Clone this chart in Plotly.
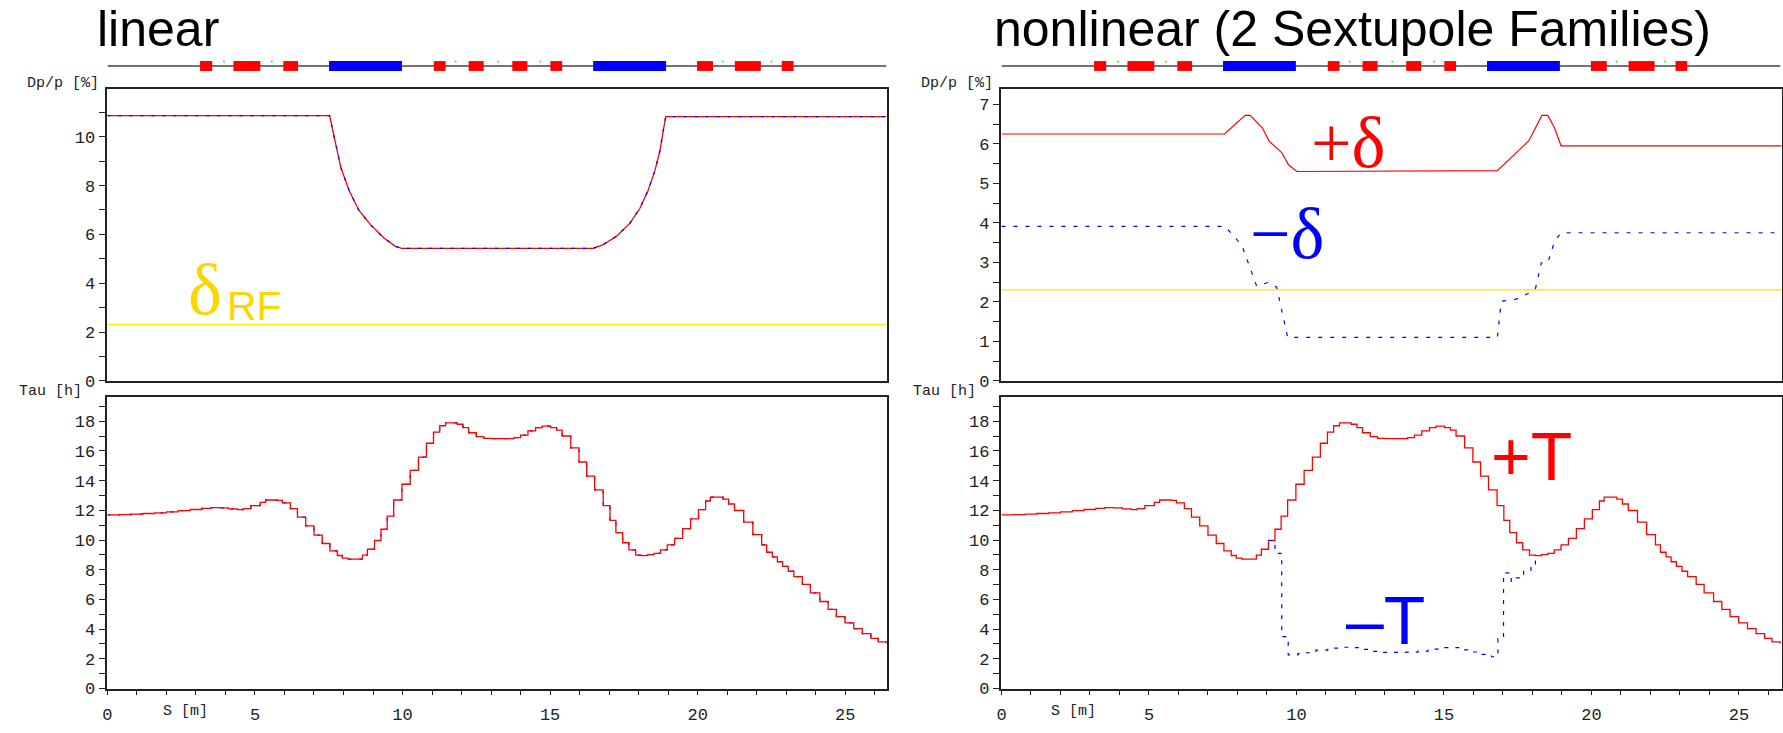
import plotly.graph_objects as go

W, H = 1783, 733

# ---------------- data ----------------
ring_len = 26.4
rf_accept = 2.31  # delta_RF [%]

# linear: Dp/p acceptance along s
s_lin = [0, 7.53, 7.74, 7.91, 8.19, 8.52, 8.92, 9.37, 9.76, 9.97, 16.46, 16.8, 17.25,
         17.70, 18.04, 18.32, 18.55, 18.72, 18.83, 18.92, 26.4]
dp_lin = [10.86, 10.86, 9.68, 8.74, 7.80, 6.99, 6.39, 5.85, 5.51, 5.43, 5.43, 5.58, 5.92,
          6.45, 7.06, 7.80, 8.60, 9.41, 10.22, 10.82, 10.82]

# nonlinear: +delta / -delta
s_dpp = [0, 7.56, 8.26, 8.43, 8.85, 9.07, 9.50, 9.73, 10.01, 16.81, 17.88, 18.32, 18.52,
         18.75, 18.97, 26.45]
dp_plus = [6.25, 6.25, 6.72, 6.72, 6.40, 6.07, 5.78, 5.47, 5.30, 5.32, 6.08, 6.72, 6.72,
           6.40, 5.95, 5.95]
s_dpm = [0, 7.58, 8.15, 8.65, 9.03, 9.33, 9.70, 16.81, 16.94, 16.98, 17.45, 17.85, 18.10,
         18.30, 18.52, 18.75, 18.97, 26.45]
dp_minus = [3.91, 3.91, 3.43, 2.40, 2.49, 2.37, 1.10, 1.10, 2.00, 2.02, 2.07, 2.21, 2.33,
            2.99, 2.99, 3.53, 3.75, 3.75]

# Touschek lifetime (step starts)
s_tau = [0, 0.4, 0.8, 1.2, 1.6, 2.0, 2.4, 2.8, 3.2, 3.5, 3.8, 4.1, 4.4, 4.6, 4.86, 5.18,
         5.36, 5.75, 5.93, 6.2, 6.44, 6.72, 7.0, 7.28, 7.54, 7.79, 7.96, 8.15, 8.64, 8.81,
         9.05, 9.27, 9.48, 9.70, 9.98, 10.26, 10.54, 10.81, 11.05, 11.26, 11.46, 11.85,
         12.05, 12.24, 12.5, 12.75, 13.0, 13.77, 14.0, 14.25, 14.51, 14.73, 15.02, 15.22,
         15.41, 15.7, 15.98, 16.24, 16.51, 16.80, 17.03, 17.23, 17.46, 17.67, 17.9, 18.1,
         18.3, 18.52, 18.74, 18.97, 19.22, 19.49, 19.76, 20.03, 20.27, 20.43, 20.86, 21.05,
         21.25, 21.56, 21.87, 22.17, 22.34, 22.53, 22.7, 22.88, 23.07, 23.26, 23.55, 23.82,
         24.14, 24.42, 24.7, 24.99, 25.29, 25.58, 25.87, 26.12, 26.4]
tau_plus = [11.70, 11.72, 11.75, 11.79, 11.83, 11.90, 11.98, 12.06, 12.14, 12.19, 12.17,
            12.10, 12.05, 12.12, 12.32, 12.54, 12.70, 12.68, 12.50, 12.12, 11.55, 10.95,
            10.33, 9.77, 9.27, 8.96, 8.78, 8.72, 8.98, 9.38, 9.97, 10.73, 11.61, 12.70,
            13.76, 14.69, 15.59, 16.52, 17.27, 17.70, 17.89, 17.80, 17.58, 17.23, 16.97,
            16.85, 16.83, 16.90, 17.07, 17.36, 17.58, 17.67, 17.58, 17.40, 17.01, 16.21,
            15.26, 14.31, 13.38, 12.32, 11.33, 10.50, 9.82, 9.34, 8.98, 8.95, 9.02, 9.11,
            9.34, 9.67, 10.11, 10.77, 11.43, 12.05, 12.63, 12.89, 12.76, 12.43, 11.99,
            11.21, 10.37, 9.67, 9.18, 8.87, 8.54, 8.23, 7.90, 7.54, 7.01, 6.44, 5.86, 5.33,
            4.84, 4.42, 4.03, 3.70, 3.38, 3.14, 3.03]
s_tm = [9.05, 9.27, 9.50, 9.72, 10.05, 10.29, 10.66, 11.06, 11.39, 11.76, 12.12, 12.49,
        12.88, 13.33, 13.73, 14.12, 14.46, 14.86, 15.25, 15.61, 15.95, 16.27, 16.61, 16.83,
        17.02, 17.28, 17.45, 17.70, 17.95, 18.1]
tau_minus = [9.97, 9.11, 3.50, 2.26, 2.35, 2.41, 2.59, 2.72, 2.78, 2.75, 2.63, 2.50, 2.43,
             2.43, 2.45, 2.52, 2.66, 2.75, 2.75, 2.60, 2.46, 2.30, 2.14, 3.36, 7.79, 7.23,
             7.45, 7.90, 8.34, 8.95]

# lattice elements (start, end) in m
quad_start = [3.14, 4.27, 5.96, 11.06, 12.24, 13.72, 15.01, 19.98, 21.26, 22.85]
quad_end = [3.55, 5.18, 6.46, 11.46, 12.75, 14.23, 15.41, 20.52, 22.14, 23.25]
bend_start = [7.51, 16.46]
bend_end = [9.98, 18.93]
sext_pos = [3.95, 5.57, 11.8, 13.25, 14.67, 20.85, 22.5]

RED = "#ff0000"
BLUE = "#0000ff"
YEL = "#fff200"
GOLD = "#ffd500"

# ---------------- pixel helpers ----------------
def px(x):
    return x / W

def py(y):
    return 1 - y / H

LX0, LX1 = 102.7, 884.0
RX0, RX1 = 999.3, 1781.7
TY0, TY1 = 90.7, 386.7
BY0, BY1 = 402.7, 699.0

fig = go.Figure()

def line(x, y, xa, ya, color, dash="solid", width=1.2, shape="linear"):
    fig.add_trace(go.Scatter(x=x, y=y, xaxis=xa, yaxis=ya, mode="lines",
                             line=dict(color=color, width=width, dash=dash, shape=shape),
                             hoverinfo="skip", showlegend=False))

# top-left
line([0, ring_len], [rf_accept, rf_accept], "x", "y", YEL, width=1.5)
line(s_lin, dp_lin, "x", "y", RED, width=1.3)
line(s_lin, dp_lin, "x", "y", BLUE, dash="3px,8px", width=1.3)
# bottom-left
line(s_tau, tau_plus, "x2", "y2", BLUE, dash="3px,8px", width=1.2, shape="hv")
line(s_tau, tau_plus, "x2", "y2", RED, width=1.3, shape="hv")
# top-right
line([0, ring_len + 0.05], [rf_accept, rf_accept], "x3", "y3", YEL, width=1.5)
line(s_dpp, dp_plus, "x3", "y3", RED, width=1.2)
line(s_dpm, dp_minus, "x3", "y3", BLUE, dash="4px,8px", width=1.2)
# bottom-right
line(s_tau, tau_plus, "x4", "y4", RED, width=1.3, shape="hv")
line(s_tm, tau_minus, "x4", "y4", BLUE, dash="4px,7px", width=1.2, shape="hv")

tickfont = dict(family="Liberation Mono, DejaVu Sans Mono, monospace", size=17, color="#222")
common = dict(showgrid=False, zeroline=False, showline=True, mirror=True,
              linecolor="#222", linewidth=1.5, tickfont=tickfont, fixedrange=True)

def xax(dom, rng, labels):
    d = dict(common, domain=dom, range=rng)
    if labels:
        d.update(ticks="outside", ticklen=5, tickwidth=1.3, tickcolor="#222", dtick=5,
                 tick0=0, showticklabels=True, ticklabelstandoff=4,
                 minor=dict(dtick=1, ticks="outside", ticklen=5, tickwidth=1.3, tickcolor="#222"))
    else:
        d.update(ticks="", showticklabels=False)
    return d

def yax(dom, rng, dt, mdt, anchor):
    return dict(common, domain=dom, range=rng, anchor=anchor, ticks="outside", ticklen=7,
                tickwidth=1.3, tickcolor="#222", dtick=dt, tick0=0,
                minor=dict(dtick=mdt, ticks="outside", ticklen=7, tickwidth=1.3, tickcolor="#222"))

ldom = [px(LX0), px(LX1)]
rdom = [px(RX0), px(RX1)]
tdom = [py(TY1), py(TY0)]
bdom = [py(BY1), py(BY0)]

fig.update_layout(
    width=W, height=H, autosize=False,
    margin=dict(l=0, r=0, t=0, b=0),
    paper_bgcolor="white", plot_bgcolor="white",
    xaxis=dict(xax(ldom, [0, ring_len], False), anchor="y"),
    yaxis=yax(tdom, [0, 11.94], 2, 1, "x"),
    xaxis2=dict(xax(ldom, [0, ring_len], True), anchor="y2"),
    yaxis2=yax(bdom, [0, 19.66], 2, 1, "x2"),
    xaxis3=dict(xax(rdom, [0, ring_len + 0.05], False), anchor="y3"),
    yaxis3=yax(tdom, [0, 7.38], 1, 0.5, "x3"),
    xaxis4=dict(xax(rdom, [0, ring_len + 0.05], True), anchor="y4"),
    yaxis4=yax(bdom, [0, 19.66], 2, 1, "x4"),
)

# lattice bars
shapes = []
for xr in ["x", "x3"]:
    shapes.append(dict(type="line", xref=xr, yref="paper", x0=0, x1=ring_len,
                       y0=py(67), y1=py(67), line=dict(color="#444", width=1.5)))
    for a, b in zip(quad_start, quad_end):
        shapes.append(dict(type="rect", xref=xr, yref="paper", x0=a, x1=b,
                           y0=py(72), y1=py(62), fillcolor=RED, line=dict(width=0)))
    for a, b in zip(bend_start, bend_end):
        shapes.append(dict(type="rect", xref=xr, yref="paper", x0=a, x1=b,
                           y0=py(72), y1=py(62), fillcolor=BLUE, line=dict(width=0)))
    for s in sext_pos:
        shapes.append(dict(type="rect", xref=xr, yref="paper", x0=s - 0.03, x1=s + 0.03,
                           y0=py(63.5), y1=py(61.5), fillcolor="#44ee44", line=dict(width=0)))
fig.update_layout(shapes=shapes)

ann = []
def text(t, x, y, size, color, family, xanchor="left"):
    ann.append(dict(text=t, x=px(x), y=py(y), xref="paper", yref="paper", showarrow=False,
                    xanchor=xanchor, yanchor="middle",
                    font=dict(size=size, color=color, family=family)))

SANS = "Liberation Sans, Arial, sans-serif"
SERIF = "Liberation Serif, Times New Roman, serif"
MONO = "Liberation Mono, DejaVu Sans Mono, monospace"

text("linear", 90, 29, 50, "black", SANS)
text("nonlinear (2 Sextupole Families)", 990, 29, 50, "black", SANS)
text("Dp/p [%]", 96, 85, 15, "#222", MONO, "right")
text("Dp/p [%]", 993, 85, 15, "#222", MONO, "right")
text("Tau [h]", 79, 397, 15, "#222", MONO, "right")
text("Tau [h]", 976, 397, 15, "#222", MONO, "right")
text("S [m]", 156, 722, 15, "#222", MONO)
text("S [m]", 1047, 722, 15, "#222", MONO)
text("δ", 182, 294, 72, GOLD, SERIF)
text("RF", 221, 311, 41, GOLD, SANS)
text("+δ", 1308, 145, 72, RED, SERIF)
text("−δ", 1246, 238, 72, BLUE, SERIF)
text("+T", 1488, 463, 68, RED, SANS)
text("–T", 1343, 629, 68, BLUE, SANS)
fig.update_layout(annotations=ann)

fig.write_html("out.html", config={"displayModeBar": False},
               post_script="document.body.style.margin='0';document.body.style.padding='0';"
                           "document.body.style.overflow='hidden';")
